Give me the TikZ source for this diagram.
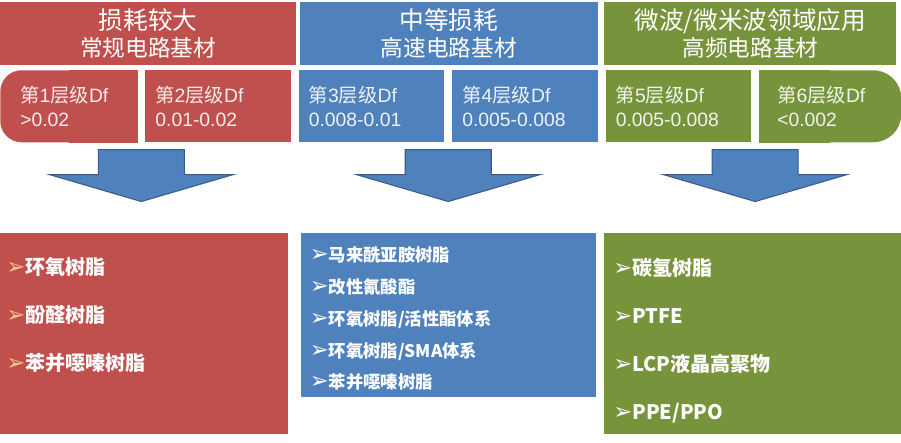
\documentclass[tikz,border=0pt]{standalone}
\usepackage{fontspec}
\setmainfont{Liberation Sans}
\newfontfamily\cjk{Noto Sans CJK SC}
\newfontfamily\symfont{DejaVu Sans}
\usetikzlibrary{positioning,calc,backgrounds}
\definecolor{cred}{HTML}{C0504D}
\definecolor{cblue}{HTML}{4F81BD}
\definecolor{cgreen}{HTML}{77933C}
\definecolor{arrowline}{HTML}{385D8A}
\definecolor{gold}{HTML}{F6C48E}

\newcommand{\bul}[1]{{\color{#1}\symfont\fontsize{17}{12}\selectfont ➢}}
\newcommand{\blkarrow}[1]{%
  \draw[blockarrow] ($(#1)+(-43,0)$) -- ++(86,0) -- ++(0,25) -- ++(49,0)
    -- ($(#1)+(0,52)$) -- ($(#1)+(-92,25)$) -- ++(49,0) -- cycle;}

\begin{document}
\begin{tikzpicture}[
  x=0.75pt, y=-0.75pt,
  header/.style={fill=#1, minimum height=47.25pt, inner sep=0pt,
                 align=center, text=white,
                 font=\cjk\fontsize{17}{20.5}\selectfont},
  dfbox/.style={fill=#1, minimum height=54pt, inner xsep=7.5pt,
                inner ysep=0pt, text width=94pt, align=left,
                text=white!90!#1, font=\fontsize{14.5}{18}\selectfont},
  matbox/.style={fill=#1, inner sep=0pt},
  item/.style={inner sep=0pt, text width=200pt, align=left, text=white,
               text height=13pt, text depth=3pt,
               font=\cjk\bfseries\fontsize{15}{18}\selectfont},
  itemsm/.style={item, text height=11pt, text depth=3pt,
                 font=\cjk\bfseries\fontsize{13}{16}\selectfont},
  blockarrow/.style={fill=cblue, draw=arrowline, line width=0.8pt,
                     line join=miter},
]
\useasboundingbox (0,0) rectangle (901,443);

% ---- Headers ----------------------------------------------------------------
\node[header=cred, minimum width=222pt, anchor=north west] (hdrstd) at (0,2)
  {{\fontsize{18.5}{20.5}\selectfont 损耗较大}\\常规电路基材};
\node[header=cblue, minimum width=223.5pt, right=2.25pt of hdrstd] (hdrfast)
  {{\fontsize{18.5}{20.5}\selectfont 中等损耗}\\高速电路基材};
\node[header=cgreen, minimum width=219pt, right=4.5pt of hdrfast] (hdrrf)
  {{\fontsize{18.5}{20.5}\selectfont 微波/微米波领域应用}\\高频电路基材};

% ---- Df levels --------------------------------------------------------------
\node[dfbox=cred, inner xsep=15pt, text width=72.75pt, rounded corners=16pt,
      anchor=north west] (df1) at (0,70) {{\cjk 第}1{\cjk 层级}Df\\>0.02};
\node[dfbox=cred, right=5.7pt of df1] (df2) {{\cjk 第}2{\cjk 层级}Df\\0.01-0.02};
\node[dfbox=cblue, right=5.7pt of df2] (df3) {{\cjk 第}3{\cjk 层级}Df\\0.008-0.01};
\node[dfbox=cblue, right=5.7pt of df3] (df4) {{\cjk 第}4{\cjk 层级}Df\\0.005-0.008};
\node[dfbox=cgreen, right=5.7pt of df4] (df5) {{\cjk 第}5{\cjk 层级}Df\\0.005-0.008};
\node[dfbox=cgreen, inner xsep=13.5pt, text width=79.5pt, rounded corners=21pt,
      right=5.7pt of df5] (df6) {{\cjk 第}6{\cjk 层级}Df\\<0.002};
\begin{scope}[on background layer]
  \fill[cred] (df1.north) rectangle (df1.south east);
  \fill[cgreen] (df6.north west) rectangle (df6.south);
\end{scope}

% ---- Arrows -----------------------------------------------------------------
\coordinate (arstd) at ($(df1.south east)!0.5!(df2.south west)+(0,7)$);
\coordinate (arfast) at ($(df3.south east)!0.5!(df4.south west)+(0,7)$);
\coordinate (arrf) at ($(df5.south east)!0.5!(df6.south west)+(0,7)$);
\blkarrow{arstd}
\blkarrow{arfast}
\blkarrow{arrf}

% ---- Materials --------------------------------------------------------------
\node[matbox=cred, minimum width=216pt, minimum height=150.75pt,
      anchor=north west] (matstd) at (0,233) {};
\node[matbox=cblue, minimum width=221.25pt, minimum height=123pt,
      right=9pt of matstd.north east, anchor=north west] (matfast) {};
\node[matbox=cgreen, minimum width=222.75pt, minimum height=150.75pt,
      right=6pt of matfast.north east, anchor=north west] (matrf) {};

\node[item, below right=18pt and 4.5pt of matstd.north west] (epoxy)
  {\bul{gold}环氧树脂};
\node[item, below=19.6pt of epoxy] (phenolic) {\bul{gold}酚醛树脂};
\node[item, below=19.6pt of phenolic] (bzstd) {\bul{gold}苯并噁嗪树脂};

\node[itemsm, below right=10.5pt and 6.75pt of matfast.north west] (bmi)
  {\bul{white}马来酰亚胺树脂};
\node[itemsm, below=9.4pt of bmi] (cyanate) {\bul{white}改性氰酸酯};
\node[itemsm, below=9.4pt of cyanate] (epact) {\bul{white}环氧树脂/活性酯体系};
\node[itemsm, below=9.4pt of epact] (epsma) {\bul{white}环氧树脂/SMA体系};
\node[itemsm, below=9.4pt of epsma] (bzfast) {\bul{white}苯并噁嗪树脂};

\node[item, below right=19pt and 6.75pt of matrf.north west] (hydro)
  {\bul{white}碳氢树脂};
\node[item, below=19.5pt of hydro] (ptfe) {\bul{white}PTFE};
\node[item, below=19.5pt of ptfe] (lcp) {\bul{white}LCP液晶高聚物};
\node[item, below=19.5pt of lcp] (ppe) {\bul{white}PPE/PPO};

\end{tikzpicture}
\end{document}
